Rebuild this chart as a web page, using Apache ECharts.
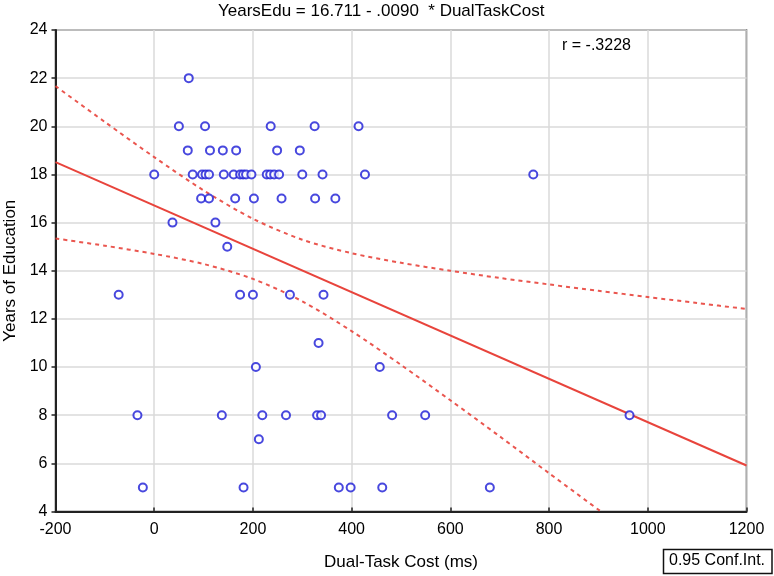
<!DOCTYPE html>
<html>
<head>
<meta charset="utf-8">
<script src="https://cdn.jsdelivr.net/npm/echarts@6/dist/echarts.min.js"></script>
<style>
html,body{margin:0;padding:0;background:#fff;}
#chart{width:774px;height:576px;}
</style>
</head>
<body>
<div id="chart"></div>
<script>
// Scatter points: Dual-task cost (ms) and years of education
const costX = [
  70,
  50, 103, 236, 325, 414,
  68, 113, 139, 166, 249, 295,
  0, 78, 97, 104, 111, 141, 161, 174, 180, 186, 197, 228, 235, 243, 253, 300, 341, 427, 768,
  95, 111, 164, 202, 258, 326, 367,
  37, 124,
  148,
  -72, 174, 200, 275, 343,
  333,
  206, 457,
  -34, 137, 219, 267, 330, 338, 482, 549, 963,
  212,
  -23, 181, 374, 398, 462, 680
];
const eduY = [
  22,
  20, 20, 20, 20, 20,
  19, 19, 19, 19, 19, 19,
  18, 18, 18, 18, 18, 18, 18, 18, 18, 18, 18, 18, 18, 18, 18, 18, 18, 18, 18,
  17, 17, 17, 17, 17, 17, 17,
  16, 16,
  15,
  13, 13, 13, 13, 13,
  11,
  10, 10,
  8, 8, 8, 8, 8, 8, 8, 8, 8,
  7,
  5, 5, 5, 5, 5, 5
];
// Regression line endpoints (YearsEdu = 16.711 - .0090 * DualTaskCost)
const fitX = [-200, 1200];
const fitY = [18.51, 5.91];
// 0.95 confidence band
const bandX = [-200, -100, 0, 100, 200, 300, 400, 500, 600, 700, 800, 900, 1000, 1100, 1200];
const upperY = [21.67, 20.18, 18.72, 17.34, 16.16, 15.29, 14.73, 14.33, 14.0, 13.70, 13.43, 13.17, 12.91, 12.66, 12.41];
const lowerX = [-200, -100, 0, 100, 200, 300, 400, 500, 600, 700, 800, 905];
const lowerY = [15.34, 15.04, 14.70, 14.28, 13.66, 12.73, 11.49, 10.09, 8.62, 7.12, 5.59, 4.0];
// Axis ticks
const xTicks = {min: -200, max: 1200, step: 200};
const yTicks = {min: 4, max: 24, step: 2};

const zip = (a, b) => a.map((v, i) => [v, b[i]]);
const FONT = "'Liberation Sans', Arial, Helvetica, sans-serif";
const RED = '#e8443c';
const BLUE = '#1a1ad6';

const chart = echarts.init(document.getElementById('chart'), null, {renderer: 'canvas'});
chart.setOption({
  backgroundColor: '#ffffff',
  animation: false,
  textStyle: {fontFamily: FONT},
  grid: {left: 55.5, right: 27.5, top: 30, bottom: 64.5, show: true, borderColor: '#333', borderWidth: 1.5,
         backgroundColor: 'transparent', containLabel: false, outerBoundsMode: 'none'},
  xAxis: {
    type: 'value', min: xTicks.min, max: xTicks.max, interval: xTicks.step,
    name: 'Dual-Task Cost (ms)', nameLocation: 'middle', nameGap: 42,
    nameTextStyle: {fontSize: 17, color: '#000', fontFamily: FONT},
    axisLine: {show: true, onZero: false, lineStyle: {color: '#222', width: 2}},
    axisTick: {show: true, inside: true, length: 4, lineStyle: {color: '#222', width: 1.5}},
    axisLabel: {fontSize: 16, color: '#000', margin: 10, fontFamily: FONT, formatter: v => String(v)},
    splitLine: {show: true, lineStyle: {color: '#dadada', width: 1.5}}
  },
  yAxis: {
    type: 'value', min: yTicks.min, max: yTicks.max, interval: yTicks.step,
    name: 'Years of Education', nameLocation: 'middle', nameGap: 32, nameRotate: 90,
    nameTextStyle: {fontSize: 17, color: '#000', fontFamily: FONT},
    axisLine: {show: true, onZero: false, lineStyle: {color: '#222', width: 2}},
    axisTick: {show: true, inside: false, length: 4, lineStyle: {color: '#222', width: 1.5}},
    axisLabel: {fontSize: 16, color: '#000', margin: 8, fontFamily: FONT, formatter: v => String(v)},
    splitLine: {show: true, lineStyle: {color: '#dadada', width: 1.5}}
  },
  series: [
    {
      type: 'line', data: zip(bandX, upperY), smooth: 0.3, showSymbol: false, silent: true, clip: true,
      lineStyle: {color: RED, width: 2, type: [4, 4], opacity: 0.9}
    },
    {
      type: 'line', data: zip(lowerX, lowerY), smooth: 0.3, showSymbol: false, silent: true, clip: true,
      lineStyle: {color: RED, width: 2, type: [4, 4], opacity: 0.9}
    },
    {
      type: 'line', data: zip(fitX, fitY), showSymbol: false, silent: true, clip: true,
      lineStyle: {color: RED, width: 2}
    },
    {
      type: 'scatter', data: zip(costX, eduY), symbol: 'emptyCircle', symbolSize: 8,
      itemStyle: {color: BLUE, borderColor: BLUE, borderWidth: 2}, z: 5
    }
  ],
  graphic: [
    {type: 'text', left: 218, top: 3, style: {text: 'YearsEdu = 16.711 - .0090  * DualTaskCost', font: '17px ' + FONT, fill: '#000'}},
    {type: 'text', left: 562, top: 38, style: {text: 'r = -.3228', font: '16px ' + FONT, fill: '#000'}},
    {type: 'rect', shape: {x: 663.5, y: 549.5, width: 108.5, height: 24}, style: {fill: '#fff', stroke: '#111', lineWidth: 1.5}},
    {type: 'text', left: 669, top: 553, style: {text: '0.95 Conf.Int.', font: '16px ' + FONT, fill: '#000'}}
  ]
});
</script>
</body>
</html>
